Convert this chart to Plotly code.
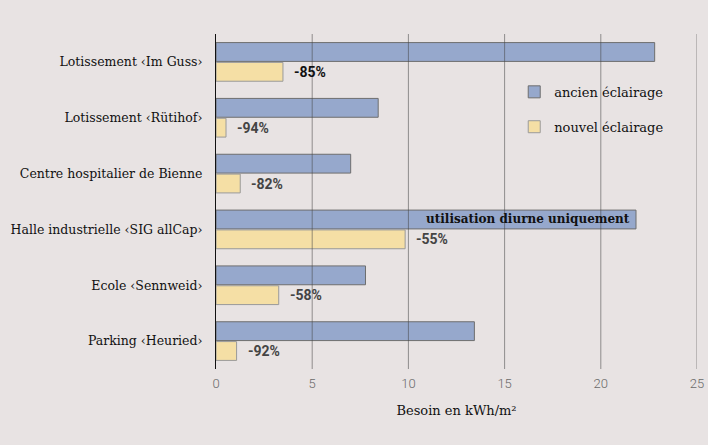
import plotly.graph_objects as go

categories = ["Lotissement ‹Im Guss›", "Lotissement ‹Rütihof›", "Centre hospitalier de Bienne",
              "Halle industrielle ‹SIG allCap›", "Ecole ‹Sennweid›", "Parking ‹Heuried›"]
ancien = [22.8, 8.43, 7.0, 21.83, 7.77, 13.43]
nouvel = [3.48, 0.52, 1.26, 9.83, 3.26, 1.07]
reduction = ["-85%", "-94%", "-82%", "-55%", "-58%", "-92%"]
label_colors = ["#111111", "#444444", "#444444", "#444444", "#444444", "#444444"]
note_category = "Halle industrielle ‹SIG allCap›"
note_text = "utilisation diurne uniquement"
xticks = [0, 5, 10, 15, 20, 25]

BG = "#E8E3E3"
SERIF = "DejaVu Serif"

fig = go.Figure()
fig.add_trace(go.Bar(y=categories, x=ancien, orientation="h", name="ancien éclairage",
                     marker=dict(color="#96A8CC", line=dict(color="#6E6E6E", width=1)),
                     legendgroup="a"))
fig.add_trace(go.Bar(y=categories, x=nouvel, orientation="h", name="nouvel éclairage",
                     marker=dict(color="#F5DFA5", line=dict(color="#9A9A9A", width=1)),
                     legendgroup="b"))

annotations = []
for cat, v, t, c in zip(categories, nouvel, reduction, label_colors):
    annotations.append(dict(x=v, y=cat, xref="x", yref="y", text=t, showarrow=False,
                            xanchor="left", yanchor="middle", xshift=9, yshift=-10,
                            font=dict(family="Roboto", size=14, color=c, weight="bold")))
idx = categories.index(note_category)
annotations.append(dict(x=ancien[idx], y=note_category, xref="x", yref="y", text=note_text,
                        showarrow=False, xanchor="right", yanchor="middle", xshift=-4, yshift=10,
                        font=dict(family=SERIF, size=12, color="#111111", weight="bold")))

shapes = []
for t in xticks[1:]:
    shapes.append(dict(type="line", xref="x", yref="paper", x0=t, x1=t, y0=0, y1=1,
                       layer="above", line=dict(color="rgba(70,70,70,0.55)", width=1)))

fig.update_layout(
    width=708, height=445,
    paper_bgcolor=BG, plot_bgcolor=BG,
    margin=dict(l=216, r=11, t=34, b=76, autoexpand=False),
    barmode="group", bargap=0.29, bargroupgap=0.05,
    font=dict(family=SERIF, size=13, color="#111111"),
    showlegend=True,
    legend=dict(x=0.62, y=0.872, xanchor="left", yanchor="top", bgcolor="rgba(0,0,0,0)",
                font=dict(family=SERIF, size=13, color="#111111"), tracegroupgap=15,
                itemwidth=30),
    annotations=annotations,
    shapes=shapes,
    xaxis=dict(range=[0, 25], tickvals=xticks, showgrid=False, zeroline=False,
               showline=False, ticks="", ticklabelstandoff=5,
               tickfont=dict(family="Roboto", size=13, color="#6A6A6A", weight=300),
               title=dict(text="Besoin en kWh/m²", standoff=15,
                          font=dict(family=SERIF, size=13, color="#111111"))),
    yaxis=dict(autorange="reversed", showgrid=False, showline=True, linecolor="#111111",
               linewidth=1, ticks="", ticklabelstandoff=10,
               tickfont=dict(family=SERIF, size=12.5, color="#111111")),
)

fig.write_html("out.html")
